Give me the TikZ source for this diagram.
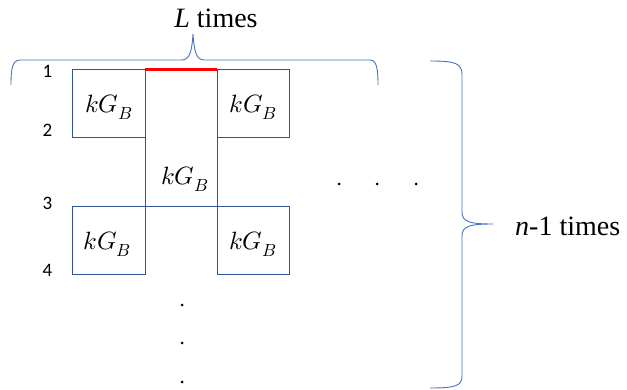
\documentclass[tikz,border=0pt]{standalone}
\usepackage{fontspec}
\setmainfont{Liberation Serif}
\newfontfamily\numfont{Carlito}
\usepackage{unicode-math}
\setmathfont{Latin Modern Math}
\definecolor{boxblue}{RGB}{47,85,151}
\definecolor{braceblue}{RGB}{68,114,196}
\definecolor{redline}{RGB}{255,0,0}
\tikzset{
  cell/.style={draw=boxblue, line width=0.9pt},
  bracepath/.style={draw=braceblue, line width=0.9pt},
  klabel/.style={font=\fontsize{25}{28}\selectfont, inner sep=0pt, anchor=base},
  numlabel/.style={font=\numfont\fontsize{19}{22}\selectfont, inner sep=0pt, anchor=base},
  bigtext/.style={font=\fontsize{28}{30}\selectfont, inner sep=0pt},
  dotmark/.style={fill=black, draw=none}
}
\begin{document}
\begin{tikzpicture}[x=1pt,y=-1pt]
\useasboundingbox (0,0) rectangle (627,390);
% cells
\draw[cell] (72,69) rectangle (145,137);
\draw[cell] (217,69) rectangle (289,137);
\draw[cell] (145,69) -- (145,206);
\draw[cell] (217,69) -- (217,206);
\draw[cell] (72,206) rectangle (145,274);
\draw[cell] (217,206) rectangle (289,274);
\draw[cell] (145,206) -- (217,206);
\draw[redline, line width=3pt] (145,70) -- (217,70);
% labels in cells
\node[klabel] (k1) at (109,113) {$kG_B$};
\node[klabel] (k2) at (253.5,113) {$kG_B$};
\node[klabel] (k3) at (185,185) {$kG_B$};
\node[klabel] (k4) at (107.5,250) {$kG_B$};
\node[klabel] (k5) at (253,250) {$kG_B$};
% row numbers
\node[numlabel] (n1) at (47.5,78) {1};
\node[numlabel] (n2) at (47.5,137) {2};
\node[numlabel] (n3) at (47.5,210) {3};
\node[numlabel] (n4) at (47.5,277) {4};
% top brace
\draw[bracepath] (11,85) .. controls (11,70) and (12,60) .. (20,60)
  -- (182,60) .. controls (190,60) and (192,50) .. (193,34)
  .. controls (194,50) and (196,60) .. (204,60)
  -- (370,60) .. controls (377,60) and (378,70) .. (378,85);
\node[bigtext, anchor=base] (lt) at (216,28) {\textit{L} times};
% right brace
\draw[bracepath] (430,61) .. controls (455,61) and (462,63) .. (462,75)
  -- (462,212) .. controls (462,222) and (470,224) .. (493,224)
  .. controls (470,224) and (462,226) .. (462,236)
  -- (462,376) .. controls (462,386) and (455,388) .. (430,388);
\node[bigtext, anchor=base west] (nt) at (515,236) {\textit{n}-1 times};
% dots
\foreach \x in {339,377,416} \fill[dotmark] (\x,184) circle (1.5);
\foreach \y in {305,343,382} \fill[dotmark] (182,\y) circle (1.5);
\end{tikzpicture}
\end{document}
